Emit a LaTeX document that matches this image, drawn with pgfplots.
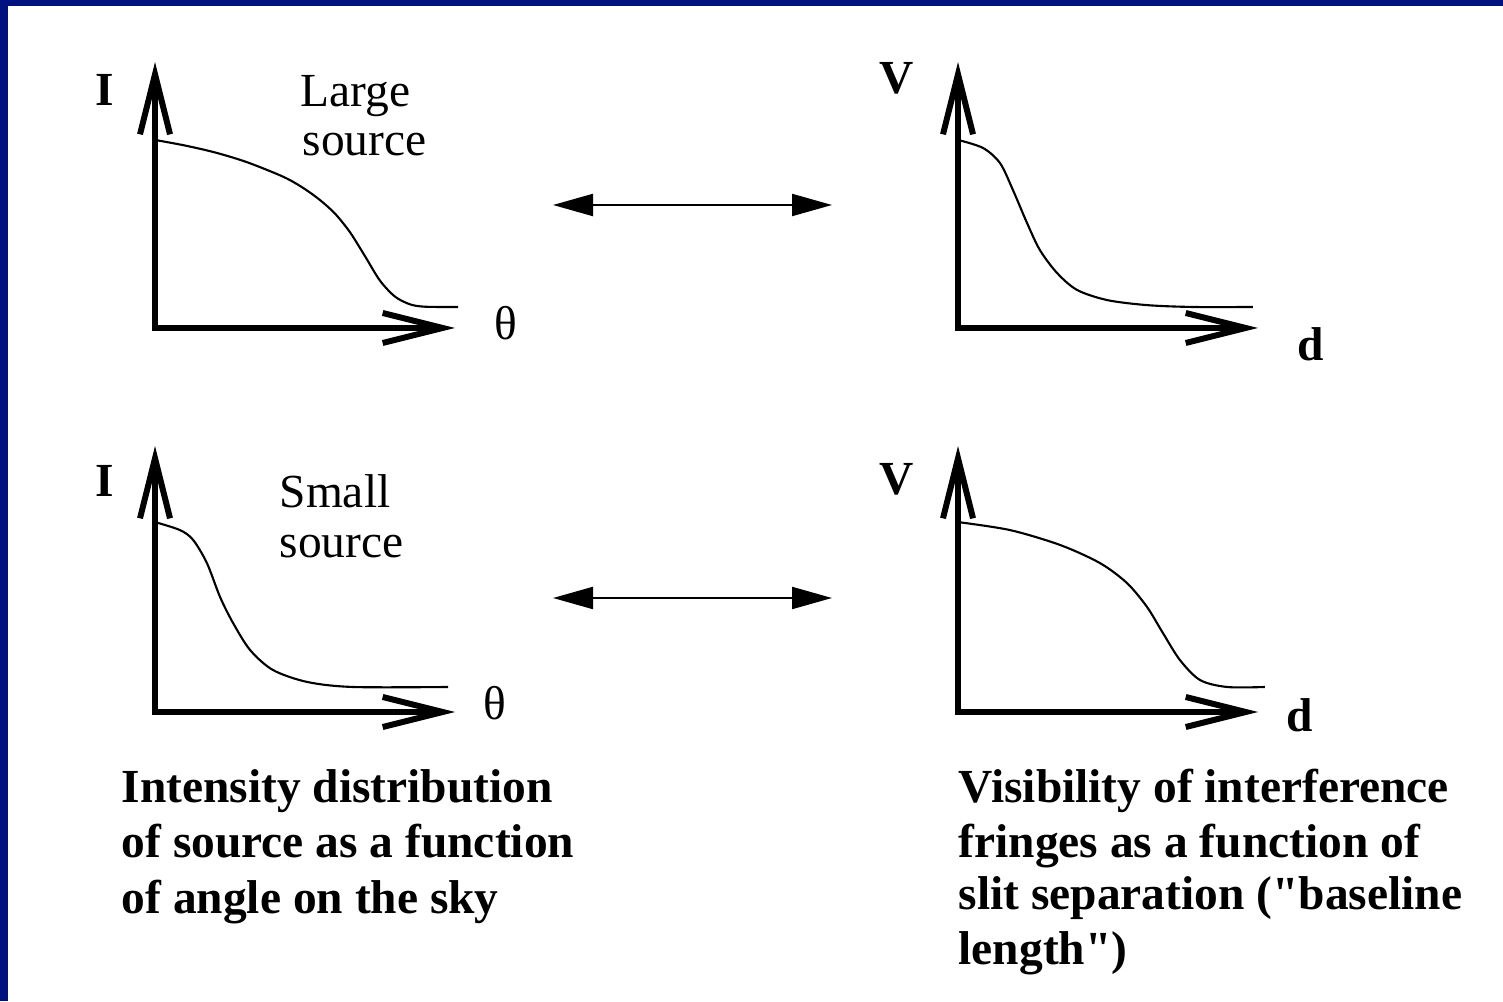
\documentclass[border=0pt]{standalone}
\usepackage{pgfplots}
\pgfplotsset{compat=1.18}
\usepackage{fontspec}
\setmainfont{Liberation Serif}[Ligatures=TeXOff]
\usetikzlibrary{arrows.meta}
\definecolor{frameblue}{RGB}{0,18,128}
\pgfplotsset{
  sketch/.style={
    scale only axis, width=30mm, height=26.6mm,
    xmin=0, xmax=1, ymin=0, ymax=1,
    axis x line*=bottom, axis y line*=left,
    xtick=\empty, ytick=\empty, clip=false,
    anchor=south west,
    axis line style={line width=1.7pt, line cap=rect},
    x axis line style={-{Straight Barb[length=6mm,width=3mm]}},
    y axis line style={-{Straight Barb[length=6mm,width=3mm]}},
  },
  curve/.style={smooth, tension=0.5, line width=0.6pt, black, mark=none},
}
\begin{document}
\begin{tikzpicture}
\useasboundingbox (0,0) rectangle (150.3mm,100.1mm);
\fill[frameblue] (0,0) rectangle (150.3mm,100.1mm);
\fill[white] (0.8mm,0) rectangle (150.3mm,99.5mm);

% top-left: large source intensity
\begin{axis}[sketch, at={(15.5mm,67.3mm)}]
\addplot[curve] coordinates {(0,0.707) (0.1,0.686) (0.2,0.660) (0.3,0.626) (0.4,0.582) (0.45,0.556) (0.5,0.522) (0.55,0.481) (0.6,0.430) (0.65,0.360) (0.7,0.270) (0.75,0.178) (0.8,0.118) (0.85,0.089) (0.9,0.080) (1.01,0.079)};
\end{axis}

% top-right: visibility for large source
\begin{axis}[sketch, at={(95.8mm,67.3mm)}]
\addplot[curve] coordinates {(0,0.707) (0.083,0.677) (0.14,0.620) (0.183,0.519) (0.23,0.395) (0.273,0.293) (0.33,0.207) (0.397,0.143) (0.497,0.105) (0.63,0.086) (0.783,0.079) (0.983,0.079)};
\end{axis}

% bottom-left: small source intensity
\begin{axis}[sketch, at={(15.5mm,28.9mm)}]
\addplot[curve] coordinates {(0,0.714) (0.083,0.684) (0.127,0.647) (0.173,0.560) (0.217,0.432) (0.26,0.335) (0.317,0.233) (0.393,0.158) (0.507,0.113) (0.66,0.094) (0.977,0.094)};
\end{axis}

% bottom-right: visibility for small source
\begin{axis}[sketch, at={(95.8mm,28.9mm)}]
\addplot[curve] coordinates {(0,0.714) (0.173,0.684) (0.34,0.628) (0.473,0.560) (0.563,0.485) (0.63,0.395) (0.683,0.297) (0.74,0.195) (0.807,0.120) (0.897,0.094) (1.023,0.094)};
\end{axis}

% double arrows
\draw[line width=0.6pt, {Triangle[length=4mm,width=2.2mm]}-{Triangle[length=4mm,width=2.2mm]}] (55.3mm,79.6mm) -- (83.2mm,79.6mm);
\draw[line width=0.6pt, {Triangle[length=4mm,width=2.2mm]}-{Triangle[length=4mm,width=2.2mm]}] (55.3mm,40.3mm) -- (83.2mm,40.3mm);

\tikzset{lab/.style={inner sep=0pt, font=\fontsize{13.5}{15.6}\selectfont},
         blab/.style={inner sep=0pt, font=\bfseries\fontsize{13.5}{15.6}\selectfont}}
% axis labels
\node[blab, anchor=base] at (10.5mm,89.5mm) {I};
\node[blab, anchor=base] at (89.7mm,90.7mm) {V};
\node[lab, anchor=base] at (50.6mm,66.1mm) {θ};
\node[blab, anchor=base] at (131.1mm,64.0mm) {d};
\node[blab, anchor=base] at (10.5mm,50.4mm) {I};
\node[blab, anchor=base] at (89.7mm,50.6mm) {V};
\node[lab, anchor=base] at (49.5mm,28.1mm) {θ};
\node[blab, anchor=base] at (130.0mm,26.9mm) {d};

% source labels
\node[lab, anchor=base west] at (30.0mm,89.4mm) {Large};
\node[lab, anchor=base west] at (30.2mm,84.5mm) {source};
\node[lab, anchor=base west] at (27.9mm,49.3mm) {Small};
\node[lab, anchor=base west] at (27.9mm,44.3mm) {source};

% captions
\node[blab, anchor=base west] at (12.1mm,19.8mm) {Intensity distribution};
\node[blab, anchor=base west] at (12.1mm,14.3mm) {of source as a function};
\node[blab, anchor=base west] at (12.1mm,8.8mm) {of angle on the sky};
\node[blab, anchor=base west] at (95.8mm,19.8mm) {Visibility of interference};
\node[blab, anchor=base west] at (95.8mm,14.4mm) {fringes as a function of};
\node[blab, anchor=base west] at (95.8mm,9.1mm) {slit separation ("baseline};
\node[blab, anchor=base west] at (95.8mm,3.6mm) {length")};
\end{tikzpicture}
\end{document}
